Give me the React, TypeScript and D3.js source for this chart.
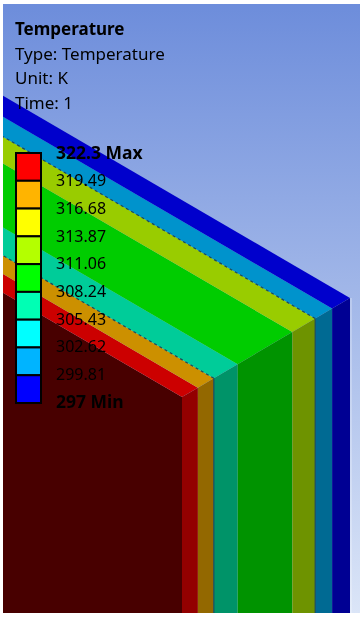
import React from "react";
import * as d3 from "d3";

// layer thickness through the wall, outermost last
const layerThickness = [16, 16, 24, 55, 23, 17, 18];
const layerTopColors = ["#cc0000", "#cc9000", "#00cc99", "#00cc00", "#99cc00", "#0093cc", "#0000cc"];
const layerSideColors = ["#930000", "#936800", "#009368", "#009300", "#6e9300", "#006a93", "#000093"];
// interfaces that show z-fighting specks in the render
const speckledCuts = [2, 5];

const legendColors = ["#ff0000", "#ffb400", "#ffff00", "#b4ff00", "#00ff00", "#00ffb4", "#00ffff", "#00b4ff", "#0000ff"];
const legendLabels = ["322.3 Max", "319.49", "316.68", "313.87", "311.06", "308.24", "305.43", "302.62", "299.81", "297 Min"];
const headerLines = ["Temperature", "Type: Temperature", "Unit: K", "Time: 1"];

const WIDTH = 360;
const HEIGHT = 617;
const FONT = "'Noto Sans', 'Open Sans', sans-serif";
const BOTTOM = 613;

export default function App() {
  const edges = d3.cumsum(layerThickness);
  const cuts = [0, ...edges];
  const total = d3.sum(layerThickness);

  // corner edge of the wall, in screen space
  const xScale = d3.scaleLinear().domain([0, total]).range([182, 350]);
  const yScale = d3.scaleLinear().domain([0, total]).range([397, 298]);
  // how far the top face runs back toward the left
  const backX = d3.scaleLinear().domain([0, 1]).range([0, -400]);
  const backY = d3.scaleLinear().domain([0, 1]).range([0, -233]);

  const line = d3.line();

  const topFace = (a: number, b: number) =>
    line([
      [xScale(a), yScale(a)],
      [xScale(b), yScale(b)],
      [xScale(b) + backX(1), yScale(b) + backY(1)],
      [xScale(a) + backX(1), yScale(a) + backY(1)],
    ]) + "Z";

  const sideFace = (a: number, b: number) =>
    line([
      [xScale(a), yScale(a)],
      [xScale(b), yScale(b)],
      [xScale(b), BOTTOM],
      [xScale(a), BOTTOM],
    ]) + "Z";

  const frontFace =
    line([
      [xScale(0), yScale(0)],
      [xScale(0), BOTTOM],
      [xScale(0) + backX(1), BOTTOM],
      [xScale(0) + backX(1), yScale(0) + backY(1)],
    ]) + "Z";

  const legendY = d3.scaleBand<number>().domain(d3.range(legendColors.length)).range([153, 403]);
  const labelY = d3.scaleLinear().domain([0, legendLabels.length - 1]).range([153, 402]);

  return (
    <svg
      width={WIDTH}
      height={HEIGHT}
      style={{ position: "absolute", left: 0, top: 0 }}
      fontFamily={FONT}
    >
      <defs>
        <linearGradient id="bg" x1="0" y1="0" x2="0" y2="1">
          <stop offset="0" stopColor="#6d8ddb" />
          <stop offset="1" stopColor="#dbe5f7" />
        </linearGradient>
        <clipPath id="view">
          <rect x={3} y={4} width={357} height={609} />
        </clipPath>
        <filter id="soft" x="-5%" y="-20%" width="110%" height="140%">
          <feGaussianBlur stdDeviation="0.35" />
        </filter>
      </defs>
      <rect width={WIDTH} height={HEIGHT} fill="#ffffff" />
      <g clipPath="url(#view)">
        <rect x={3} y={4} width={357} height={609} fill="url(#bg)" />
        <path d={frontFace} fill="#480000" />
        {layerThickness.map((_, i) => (
          <g key={i}>
            <path d={topFace(cuts[i], cuts[i + 1])} fill={layerTopColors[i]} />
            <path d={sideFace(cuts[i], cuts[i + 1])} fill={layerSideColors[i]} />
          </g>
        ))}
        {speckledCuts.map((k) => (
          <g key={k} fill="none" strokeWidth={1.2}>
            <path
              d={line([
                [xScale(cuts[k]), yScale(cuts[k])],
                [xScale(cuts[k]) + backX(1), yScale(cuts[k]) + backY(1)],
              ])!}
              stroke="#1c4a5c"
              strokeDasharray="3 3"
            />
            <path
              d={line([
                [xScale(cuts[k]), yScale(cuts[k])],
                [xScale(cuts[k]), BOTTOM],
              ])!}
              stroke="#1c4a5c"
            />
          </g>
        ))}
        <line
          x1={xScale(total) + 1}
          x2={xScale(total) + 1}
          y1={yScale(total)}
          y2={BOTTOM}
          stroke="#ffffff"
          strokeOpacity={0.5}
        />
      </g>
      {legendColors.map((c, i) => (
        <rect
          key={c}
          x={16}
          y={legendY(i)}
          width={25}
          height={legendY.bandwidth()}
          fill={c}
          stroke="#000000"
          strokeWidth={2}
        />
      ))}
      <g filter="url(#soft)">
        {legendLabels.map((t, i) => {
          const strong = i === 0 || i === legendLabels.length - 1;
          return (
            <text
              key={t}
              x={56}
              y={labelY(i)}
              dy="0.35em"
              fontSize={strong ? 17.5 : 16}
              fontWeight={strong ? 700 : 400}
              fill="#000000"
            >
              {t}
            </text>
          );
        })}
        {headerLines.map((t, i) => (
          <text key={t} x={15} y={35 + i * 24.5} fontSize={17} fontWeight={i === 0 ? 700 : 400} fill="#000000">
            {t}
          </text>
        ))}
      </g>
    </svg>
  );
}
